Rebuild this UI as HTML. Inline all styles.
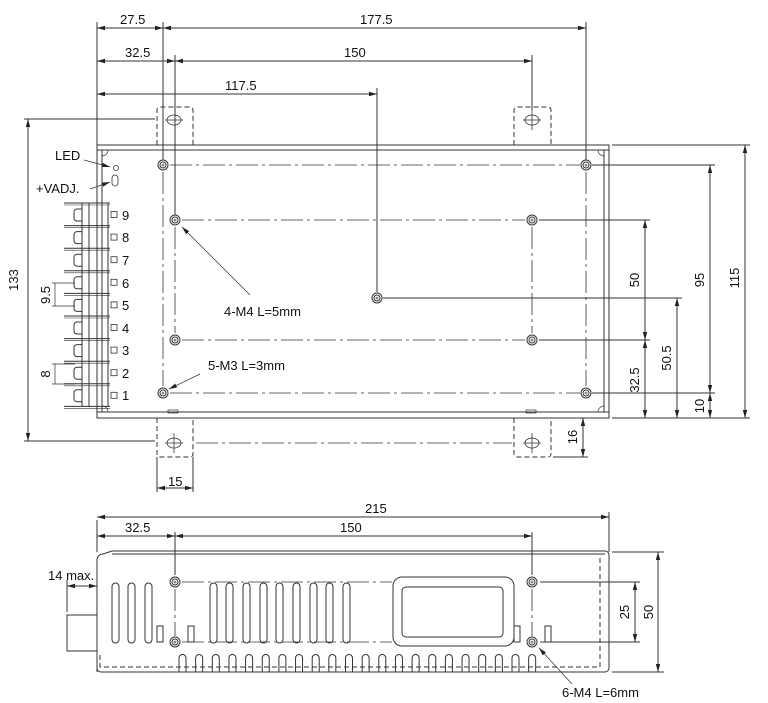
<!DOCTYPE html>
<html><head><meta charset="utf-8"><style>
html,body{margin:0;padding:0;background:#fff;width:768px;height:703px;overflow:hidden}
svg{display:block}
text{font-family:"Liberation Sans",sans-serif;font-size:13px;fill:#111}
</style></head><body>
<svg id="s" width="768" height="703" viewBox="0 0 768 703" xmlns="http://www.w3.org/2000/svg">
<defs>
<marker id="a" markerWidth="8" markerHeight="6" refX="8" refY="3" orient="auto-start-reverse" markerUnits="userSpaceOnUse"><path d="M0,0.8 L8,3 L0,5.2z" fill="#222"/></marker>
</defs>
<g stroke="#333" stroke-width="1" fill="none">
<rect x="97" y="145" width="512" height="273"/>
<line x1="97" y1="150" x2="609" y2="150"/>
<line x1="97" y1="412" x2="609" y2="412"/>
<line x1="102" y1="150" x2="102" y2="412"/>
<line x1="604" y1="150" x2="604" y2="412"/>
<path d="M102,156 a6,6 0 0 0 6,-6 M604,156 a6,6 0 0 1 -6,-6 M102,406 a6,6 0 0 1 6,6 M604,406 a6,6 0 0 0 -6,6" stroke-width="0.7"/>
<rect x="168" y="410" width="10" height="3" stroke-width="0.7"/>
<rect x="526" y="410" width="10" height="3" stroke-width="0.7"/>
<g stroke-dasharray="5,3">
<path d="M157,145 V110 a3,3 0 0 1 3,-3 H190 a3,3 0 0 1 3,3 V145"/>
<path d="M514,145 V110 a3,3 0 0 1 3,-3 H548 a3,3 0 0 1 3,3 V145"/>
<path d="M157,418 V454 a3,3 0 0 0 3,3 H190 a3,3 0 0 0 3,-3 V418"/>
<path d="M514,418 V454 a3,3 0 0 0 3,3 H548 a3,3 0 0 0 3,-3 V418"/>
</g>
<g stroke-width="0.8">
<ellipse cx="174" cy="120" rx="7" ry="5"/><ellipse cx="532" cy="120" rx="7" ry="5"/>
<ellipse cx="174" cy="443" rx="7" ry="5"/><ellipse cx="532" cy="443" rx="7" ry="5"/>
<line x1="165" y1="120" x2="183" y2="120"/><line x1="523" y1="120" x2="541" y2="120"/>
<line x1="165" y1="443" x2="183" y2="443"/><line x1="523" y1="443" x2="541" y2="443"/>
<line x1="532" y1="110" x2="532" y2="130"/><line x1="174" y1="433" x2="174" y2="453"/><line x1="532" y1="433" x2="532" y2="453"/>
</g>
<g stroke-dasharray="22,4,3,4" stroke-width="0.8">
<line x1="170" y1="165" x2="580" y2="165"/>
<line x1="170" y1="393" x2="580" y2="393"/>
<line x1="182" y1="220" x2="525" y2="220"/>
<line x1="182" y1="340" x2="525" y2="340"/>
<line x1="163" y1="172" x2="163" y2="386"/>
<line x1="586" y1="172" x2="586" y2="386"/>
<line x1="175" y1="227" x2="175" y2="333"/>
<line x1="532" y1="227" x2="532" y2="333"/>
<line x1="196" y1="443" x2="512" y2="443"/>
</g>
<line x1="97" y1="22" x2="97" y2="145"/>
<line x1="163" y1="22" x2="163" y2="160"/>
<line x1="586" y1="22" x2="586" y2="160"/>
<line x1="175" y1="55" x2="175" y2="215"/>
<line x1="532" y1="55" x2="532" y2="110"/>
<line x1="377" y1="88" x2="377" y2="292"/>
<line x1="97" y1="28" x2="163" y2="28" marker-start="url(#a)" marker-end="url(#a)"/>
<line x1="163" y1="28" x2="586" y2="28" marker-start="url(#a)" marker-end="url(#a)"/>
<line x1="97" y1="61" x2="175" y2="61" marker-start="url(#a)" marker-end="url(#a)"/>
<line x1="175" y1="61" x2="532" y2="61" marker-start="url(#a)" marker-end="url(#a)"/>
<line x1="97" y1="94" x2="377" y2="94" marker-start="url(#a)" marker-end="url(#a)"/>
<line x1="592" y1="165" x2="715" y2="165"/>
<line x1="539" y1="220" x2="650" y2="220"/>
<line x1="383" y1="298" x2="682" y2="298"/>
<line x1="539" y1="340" x2="650" y2="340"/>
<line x1="592" y1="393" x2="715" y2="393"/>
<line x1="612" y1="145" x2="750" y2="145"/>
<line x1="612" y1="418" x2="750" y2="418"/>
<line x1="645" y1="220" x2="645" y2="340" marker-start="url(#a)" marker-end="url(#a)"/>
<line x1="645" y1="340" x2="645" y2="418" marker-start="url(#a)" marker-end="url(#a)"/>
<line x1="677" y1="298" x2="677" y2="418" marker-start="url(#a)" marker-end="url(#a)"/>
<line x1="710" y1="165" x2="710" y2="393" marker-start="url(#a)" marker-end="url(#a)"/>
<line x1="710" y1="393" x2="710" y2="418" marker-start="url(#a)" marker-end="url(#a)"/>
<line x1="745" y1="145" x2="745" y2="418" marker-start="url(#a)" marker-end="url(#a)"/>
<line x1="553" y1="457" x2="588" y2="457"/>
<line x1="583" y1="418" x2="583" y2="457" marker-start="url(#a)" marker-end="url(#a)"/>
<line x1="157" y1="457" x2="157" y2="492"/><line x1="193" y1="457" x2="193" y2="492"/>
<line x1="157" y1="488" x2="193" y2="488" marker-start="url(#a)" marker-end="url(#a)"/>
<line x1="24" y1="119" x2="155" y2="119"/><line x1="24" y1="441" x2="155" y2="441"/>
<line x1="28" y1="119" x2="28" y2="441" marker-start="url(#a)" marker-end="url(#a)"/>
<circle cx="116" cy="168" r="2.5" stroke-width="0.8"/>
<rect x="112" y="175" width="6" height="11" rx="3" stroke-width="0.8"/>
<line x1="84" y1="160" x2="110" y2="167" stroke-width="0.7" marker-end="url(#a)"/>
<line x1="90" y1="189" x2="110" y2="182" stroke-width="0.7" marker-end="url(#a)"/>
<line x1="250" y1="295" x2="182" y2="227" stroke-width="0.7" marker-end="url(#a)"/>
<line x1="200" y1="374" x2="169" y2="389" stroke-width="0.7" marker-end="url(#a)"/>
<line x1="52" y1="283" x2="75" y2="283" stroke-width="0.7"/><line x1="52" y1="306" x2="75" y2="306" stroke-width="0.7"/>
<line x1="55" y1="283" x2="55" y2="306" stroke-width="0.7"/>
<line x1="52" y1="364" x2="75" y2="364" stroke-width="0.7"/><line x1="52" y1="384" x2="75" y2="384" stroke-width="0.7"/>
<line x1="55" y1="364" x2="55" y2="384" stroke-width="0.7"/>
<g id="term"></g>
<path d="M97,672 V560 a6,6 0 0 1 6,-6 L112,551 H605 a4,4 0 0 1 4,4 V668 a4,4 0 0 1 -4,4 H101 a4,4 0 0 1 -4,-4"/>
<line x1="112" y1="554" x2="605" y2="554"/>
<path d="M100,655 V667 H600 V555" stroke-dasharray="5,3"/>
<rect x="67" y="615" width="30" height="36"/>
<line x1="67" y1="580" x2="67" y2="612"/><line x1="97" y1="520" x2="97" y2="552"/>
<line x1="67" y1="586" x2="97" y2="586" marker-start="url(#a)" marker-end="url(#a)"/>
<line x1="97" y1="517" x2="609" y2="517" marker-start="url(#a)" marker-end="url(#a)"/>
<line x1="609" y1="512" x2="609" y2="552"/>
<line x1="97" y1="536" x2="175" y2="536" marker-start="url(#a)" marker-end="url(#a)"/>
<line x1="175" y1="536" x2="532" y2="536" marker-start="url(#a)" marker-end="url(#a)"/>
<line x1="175" y1="532" x2="175" y2="575"/><line x1="532" y1="532" x2="532" y2="575"/>
<rect x="393" y="577" width="121" height="69" rx="9"/>
<rect x="402" y="587" width="101" height="50" rx="4"/>
<g stroke-dasharray="22,4,3,4" stroke-width="0.8">
<line x1="182" y1="582" x2="392" y2="582"/><line x1="182" y1="642" x2="392" y2="642"/>
<line x1="175" y1="589" x2="175" y2="636"/><line x1="532" y1="589" x2="532" y2="636"/>
</g>
<line x1="540" y1="582" x2="640" y2="582"/><line x1="540" y1="642" x2="640" y2="642"/>
<line x1="612" y1="552" x2="664" y2="552"/><line x1="612" y1="672" x2="664" y2="672"/>
<line x1="635" y1="582" x2="635" y2="642" marker-start="url(#a)" marker-end="url(#a)"/>
<line x1="658" y1="552" x2="658" y2="672" marker-start="url(#a)" marker-end="url(#a)"/>
<rect x="157" y="626" width="6" height="16"/><rect x="188" y="626" width="6" height="16"/>
<rect x="514" y="626" width="6" height="16"/><rect x="545" y="626" width="6" height="16"/>
<line x1="572" y1="684" x2="539" y2="648" stroke-width="0.7" marker-end="url(#a)"/>
<g id="bv"></g>
<g id="holes"></g>
</g>
<text x="120" y="24">27.5</text>
<text x="360" y="24">177.5</text>
<text x="125" y="57">32.5</text>
<text x="344" y="57">150</text>
<text x="225" y="90">117.5</text>
<text x="55" y="160">LED</text>
<text x="36" y="193">+VADJ.</text>
<text x="224" y="316">4-M4 L=5mm</text>
<text x="208" y="370">5-M3 L=3mm</text>
<text x="168" y="486">15</text>
<text x="365" y="513">215</text>
<text x="125" y="532">32.5</text>
<text x="340" y="532">150</text>
<text x="48" y="580">14 max.</text>
<text x="562" y="697">6-M4 L=6mm</text>
<text transform="translate(18,280) rotate(-90)" text-anchor="middle">133</text>
<text transform="translate(50,295) rotate(-90)" text-anchor="middle">9.5</text>
<text transform="translate(50,374) rotate(-90)" text-anchor="middle">8</text>
<text transform="translate(639,280) rotate(-90)" text-anchor="middle">50</text>
<text transform="translate(639,380) rotate(-90)" text-anchor="middle">32.5</text>
<text transform="translate(671,358) rotate(-90)" text-anchor="middle">50.5</text>
<text transform="translate(704,280) rotate(-90)" text-anchor="middle">95</text>
<text transform="translate(704,406) rotate(-90)" text-anchor="middle">10</text>
<text transform="translate(739,278) rotate(-90)" text-anchor="middle">115</text>
<text transform="translate(577,437) rotate(-90)" text-anchor="middle">16</text>
<text transform="translate(629,612) rotate(-90)" text-anchor="middle">25</text>
<text transform="translate(653,612) rotate(-90)" text-anchor="middle">50</text>
<text x="122" y="220">9</text><text x="122" y="242">8</text><text x="122" y="265">7</text>
<text x="122" y="288">6</text><text x="122" y="310">5</text><text x="122" y="333">4</text>
<text x="122" y="355">3</text><text x="122" y="378">2</text><text x="122" y="400">1</text>
</svg>
<script>
var NS="http://www.w3.org/2000/svg";
function el(p,t,a){var e=document.createElementNS(NS,t);for(var k in a)e.setAttribute(k,a[k]);p.appendChild(e);return e;}
var T=document.getElementById("term");
el(T,"line",{x1:82,y1:203,x2:82,y2:407});el(T,"line",{x1:89,y1:203,x2:89,y2:407});el(T,"line",{x1:108,y1:203,x2:108,y2:407});
for(var i=0;i<10;i++){var y=203+i*22.6;el(T,"line",{x1:64,y1:y,x2:110,y2:y});el(T,"line",{x1:64,y1:y+2,x2:110,y2:y+2,"stroke-width":0.6});}
for(var i=0;i<9;i++){var y=209+i*22.6;el(T,"path",{d:"M82,"+y+" h-5 a3,3 0 0 0 -3,3 v6 a3,3 0 0 0 3,3 h5"});el(T,"rect",{x:111,y:y+2.5,width:6,height:6,"stroke-width":0.8});}
var H=document.getElementById("holes");
[[163,165],[586,165],[175,220],[532,220],[377,298],[175,340],[532,340],[163,393],[586,393],[175,582],[175,642],[532,582],[532,642]].forEach(function(p){
el(H,"circle",{cx:p[0],cy:p[1],r:5});el(H,"circle",{cx:p[0],cy:p[1],r:3});el(H,"circle",{cx:p[0],cy:p[1],r:1,"stroke-width":0.6});});
var B=document.getElementById("bv");
[112,128,145,210,226,243,260,276,293,310,326,343].forEach(function(x){el(B,"rect",{x:x,y:583,width:7,height:60,rx:3.5});});
for(var x=179;x<540;x+=16.65){el(B,"path",{d:"M"+x+",672 V658 a3.5,3.5 0 0 1 7,0 V672"});}
</script>
</body></html>
